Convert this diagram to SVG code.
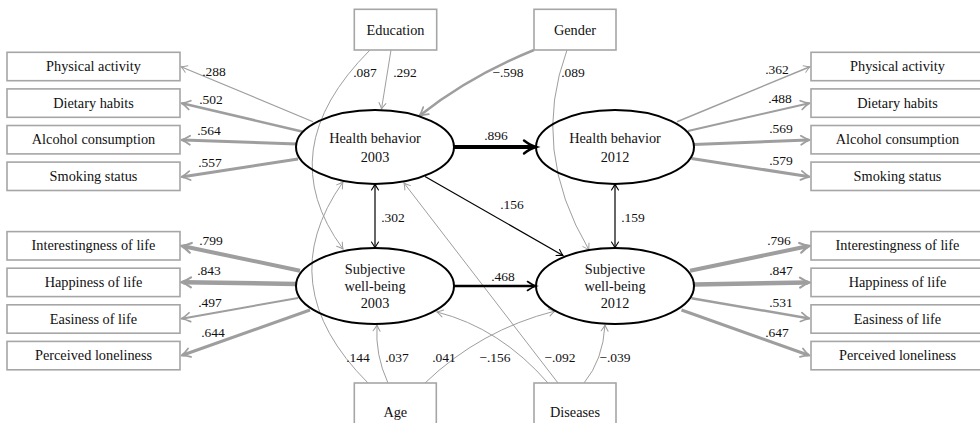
<svg xmlns="http://www.w3.org/2000/svg" width="980" height="423" viewBox="0 0 980 423" font-family="'Liberation Serif', 'DejaVu Serif', serif">
  <style>
    text { font-family: "Liberation Serif", "DejaVu Serif", serif; fill: #111; }
    .box rect { fill: #fff; stroke: #a6a6a6; stroke-width: 1.6; }
    .box text { font-size: 14.3px; text-anchor: middle; }
    .lat ellipse { fill: none; stroke: #000; stroke-width: 2; }
    .lat text { font-size: 14.3px; text-anchor: middle; }
    .g { fill: none; stroke: #9e9e9e; }
    .k { fill: none; stroke: #000; }
    .lbl { font-size: 13.5px; text-anchor: middle; }
  </style>
  <defs>
    <marker id="g1" markerUnits="userSpaceOnUse" viewBox="-10 -6 14 12" refX="0" refY="0" markerWidth="14" markerHeight="12" orient="auto" overflow="visible">
      <path d="M-6,-3.5 Q-2,-0.8 0,0 Q-2,0.8 -6,3.5" fill="none" stroke="#9e9e9e" stroke-width="1" stroke-linecap="round"/>
    </marker>
    <marker id="g2" markerUnits="userSpaceOnUse" viewBox="-10 -6 14 12" refX="0" refY="0" markerWidth="14" markerHeight="12" orient="auto" overflow="visible">
      <path d="M-7,-4.5 Q-2,-1 2,0 Q-2,1 -7,4.5" fill="none" stroke="#9e9e9e" stroke-width="1.7" stroke-linecap="round"/>
    </marker>
    <marker id="g3" markerUnits="userSpaceOnUse" viewBox="-10 -6 14 12" refX="0" refY="0" markerWidth="14" markerHeight="12" orient="auto" overflow="visible">
      <path d="M-7.5,-5 Q-2,-1.2 2.5,0 Q-2,1.2 -7.5,5" fill="none" stroke="#9e9e9e" stroke-width="2.1" stroke-linecap="round"/>
    </marker>
    <marker id="k1" markerUnits="userSpaceOnUse" viewBox="-10 -6 14 12" refX="0" refY="0" markerWidth="14" markerHeight="12" orient="auto-start-reverse" overflow="visible">
      <path d="M-6,-3.5 Q-2,-0.8 0,0 Q-2,0.8 -6,3.5" fill="none" stroke="#000" stroke-width="1.1" stroke-linecap="round"/>
    </marker>
    <marker id="k2" markerUnits="userSpaceOnUse" viewBox="-10 -6 14 12" refX="0" refY="0" markerWidth="14" markerHeight="12" orient="auto" overflow="visible">
      <path d="M-7,-4.5 Q-2,-1 1.5,0 Q-2,1 -7,4.5" fill="none" stroke="#000" stroke-width="1.6" stroke-linecap="round"/>
    </marker>
    <marker id="k3" markerUnits="userSpaceOnUse" viewBox="-14 -8 18 16" refX="0" refY="0" markerWidth="18" markerHeight="16" orient="auto" overflow="visible">
      <path d="M-10,-6.5 Q-3.5,-1.5 2,0 Q-3.5,1.5 -10,6.5" fill="none" stroke="#000" stroke-width="2.4" stroke-linecap="round"/>
    </marker>
  </defs>

  <!-- paths and loadings -->
  <g id="connectors">
    <!-- health behavior 2003 indicators -->
    <path class="g" stroke-width="1.2" marker-end="url(#g1)" d="M313,121.7 L181,66.7"/>
    <path class="g" stroke-width="2.5" marker-end="url(#g2)" d="M303,131.7 L183,103.5"/>
    <path class="g" stroke-width="3" marker-end="url(#g2)" d="M297,144 L183,140"/>
    <path class="g" stroke-width="3" marker-end="url(#g2)" d="M298,159 L183,176.7"/>
    <!-- subjective well-being 2003 indicators -->
    <path class="g" stroke-width="4" marker-end="url(#g3)" d="M300,270.7 L183.5,246.3"/>
    <path class="g" stroke-width="4.5" marker-end="url(#g3)" d="M296,284 L183.5,282.2"/>
    <path class="g" stroke-width="2" marker-end="url(#g2)" d="M298,298 L183,318.4"/>
    <path class="g" stroke-width="3" marker-end="url(#g2)" d="M310,310 L183,355"/>
    <!-- health behavior 2012 indicators -->
    <path class="g" stroke-width="1.5" marker-end="url(#g1)" d="M677,121.7 L810,66.7"/>
    <path class="g" stroke-width="2" marker-end="url(#g2)" d="M688,131 L808,103.5"/>
    <path class="g" stroke-width="3" marker-end="url(#g2)" d="M694,144.5 L808,140"/>
    <path class="g" stroke-width="3" marker-end="url(#g2)" d="M691.5,158.5 L808,176.5"/>
    <!-- subjective well-being 2012 indicators -->
    <path class="g" stroke-width="4" marker-end="url(#g3)" d="M690,270.7 L807.5,246.3"/>
    <path class="g" stroke-width="4.5" marker-end="url(#g3)" d="M694,284.5 L807.5,282.5"/>
    <path class="g" stroke-width="2.5" marker-end="url(#g2)" d="M691.5,298.3 L808,318.2"/>
    <path class="g" stroke-width="3" marker-end="url(#g2)" d="M681.5,310 L808,355"/>

    <!-- covariates -->
    <path class="g" stroke-width="1" marker-end="url(#g1)" d="M391,50 L381.5,109"/>
    <path class="g" stroke-width="1" marker-end="url(#g1)" d="M370,50 Q270,150 343,249"/>
    <path class="g" stroke-width="2.5" marker-end="url(#g2)" d="M534,50 Q470,76 420.5,115"/>
    <path class="g" stroke-width="1" marker-end="url(#g1)" d="M567,50 Q530,150 589,250"/>
    <path class="g" stroke-width="1" marker-end="url(#g1)" d="M368,383 Q270,285 343,182"/>
    <path class="g" stroke-width="1" marker-end="url(#g1)" d="M388,383 Q375,355 377,325"/>
    <path class="g" stroke-width="1" marker-end="url(#g1)" d="M425,383 Q480,330 555,311"/>
    <path class="g" stroke-width="1" marker-end="url(#g1)" d="M548,383 Q500,328 437,312"/>
    <path class="g" stroke-width="1" marker-end="url(#g1)" d="M558,383 L404,183"/>
    <path class="g" stroke-width="1" marker-end="url(#g1)" d="M584,383 Q603,360 605,325"/>

    <!-- structural paths -->
    <path class="k" stroke-width="4" marker-end="url(#k3)" d="M454,147 L534,147"/>
    <path class="k" stroke-width="2.4" marker-end="url(#k2)" d="M454,286 L534.5,286"/>
    <path class="k" stroke-width="1.2" marker-end="url(#k1)" d="M425,176.5 L563,255.5"/>
    <path class="k" stroke-width="1.2" marker-start="url(#k1)" marker-end="url(#k1)" d="M375,184 L375,248"/>
    <path class="k" stroke-width="1.2" marker-start="url(#k1)" marker-end="url(#k1)" d="M615,184 L615,248"/>

    <!-- coefficients -->
    <text class="lbl" x="214" y="76">.288</text>
    <text class="lbl" x="211" y="104">.502</text>
    <text class="lbl" x="209" y="135">.564</text>
    <text class="lbl" x="210" y="167">.557</text>
    <text class="lbl" x="211" y="245">.799</text>
    <text class="lbl" x="209" y="275">.843</text>
    <text class="lbl" x="210" y="307">.497</text>
    <text class="lbl" x="213" y="337">.644</text>
    <text class="lbl" x="777" y="74">.362</text>
    <text class="lbl" x="780" y="103">.488</text>
    <text class="lbl" x="781" y="133">.569</text>
    <text class="lbl" x="781" y="165">.579</text>
    <text class="lbl" x="779" y="245">.796</text>
    <text class="lbl" x="781" y="275">.847</text>
    <text class="lbl" x="781" y="307">.531</text>
    <text class="lbl" x="777" y="337">.647</text>
    <text class="lbl" x="365" y="77">.087</text>
    <text class="lbl" x="405" y="77">.292</text>
    <text class="lbl" x="508" y="77">−.598</text>
    <text class="lbl" x="573" y="77">.089</text>
    <text class="lbl" x="358" y="362">.144</text>
    <text class="lbl" x="397" y="362">.037</text>
    <text class="lbl" x="444" y="362">.041</text>
    <text class="lbl" x="495" y="362">−.156</text>
    <text class="lbl" x="560" y="362">−.092</text>
    <text class="lbl" x="615" y="362">−.039</text>
    <text class="lbl" x="496" y="140">.896</text>
    <text class="lbl" x="503" y="281">.468</text>
    <text class="lbl" x="393" y="221.5">.302</text>
    <text class="lbl" x="633" y="221.5">.159</text>
    <text class="lbl" x="512" y="209">.156</text>
  </g>

  <!-- latent variables -->
  <g id="hb2003" class="lat">
    <ellipse cx="375" cy="147" rx="79" ry="37"/>
    <text x="375" y="143">Health behavior</text>
    <text x="375" y="162">2003</text>
  </g>
  <g id="hb2012" class="lat">
    <ellipse cx="615" cy="147" rx="79" ry="37"/>
    <text x="615" y="143">Health behavior</text>
    <text x="615" y="162">2012</text>
  </g>
  <g id="swb2003" class="lat">
    <ellipse cx="375" cy="286" rx="79" ry="38"/>
    <text x="375" y="274">Subjective</text>
    <text x="375" y="291">well-being</text>
    <text x="375" y="307.5">2003</text>
  </g>
  <g id="swb2012" class="lat">
    <ellipse cx="615" cy="286" rx="79" ry="38"/>
    <text x="615" y="274">Subjective</text>
    <text x="615" y="291">well-being</text>
    <text x="615" y="307.5">2012</text>
  </g>

  <!-- observed indicators, 2003 -->
  <g id="pa2003" class="box"><rect x="7" y="52.3" width="173" height="28.4"/><text x="93.5" y="71">Physical activity</text></g>
  <g id="dh2003" class="box"><rect x="7" y="88.9" width="173" height="28.4"/><text x="93.5" y="107.6">Dietary habits</text></g>
  <g id="ac2003" class="box"><rect x="7" y="125.5" width="173" height="28.4"/><text x="93.5" y="144.2">Alcohol consumption</text></g>
  <g id="ss2003" class="box"><rect x="7" y="162.1" width="173" height="28.4"/><text x="93.5" y="180.8">Smoking status</text></g>
  <g id="il2003" class="box"><rect x="7" y="231.6" width="173" height="28.4"/><text x="93.5" y="250.3">Interestingness of life</text></g>
  <g id="hl2003" class="box"><rect x="7" y="268.2" width="173" height="28.4"/><text x="93.5" y="286.9">Happiness of life</text></g>
  <g id="el2003" class="box"><rect x="7" y="304.8" width="173" height="28.4"/><text x="93.5" y="323.5">Easiness of life</text></g>
  <g id="pl2003" class="box"><rect x="7" y="341.4" width="173" height="28.4"/><text x="93.5" y="360.1">Perceived loneliness</text></g>

  <!-- observed indicators, 2012 -->
  <g id="pa2012" class="box"><rect x="811" y="52.3" width="173" height="28.4"/><text x="897.5" y="71">Physical activity</text></g>
  <g id="dh2012" class="box"><rect x="811" y="88.9" width="173" height="28.4"/><text x="897.5" y="107.6">Dietary habits</text></g>
  <g id="ac2012" class="box"><rect x="811" y="125.5" width="173" height="28.4"/><text x="897.5" y="144.2">Alcohol consumption</text></g>
  <g id="ss2012" class="box"><rect x="811" y="162.1" width="173" height="28.4"/><text x="897.5" y="180.8">Smoking status</text></g>
  <g id="il2012" class="box"><rect x="811" y="231.6" width="173" height="28.4"/><text x="897.5" y="250.3">Interestingness of life</text></g>
  <g id="hl2012" class="box"><rect x="811" y="268.2" width="173" height="28.4"/><text x="897.5" y="286.9">Happiness of life</text></g>
  <g id="el2012" class="box"><rect x="811" y="304.8" width="173" height="28.4"/><text x="897.5" y="323.5">Easiness of life</text></g>
  <g id="pl2012" class="box"><rect x="811" y="341.4" width="173" height="28.4"/><text x="897.5" y="360.1">Perceived loneliness</text></g>

  <!-- covariates -->
  <g id="education" class="box"><rect x="354.3" y="9.3" width="82.4" height="40.7"/><text x="395.5" y="34.5">Education</text></g>
  <g id="gender" class="box"><rect x="534" y="9.3" width="82" height="40.7"/><text x="575" y="34.5">Gender</text></g>
  <g id="age" class="box"><rect x="354.3" y="383" width="82" height="46"/><text x="395.3" y="417">Age</text></g>
  <g id="diseases" class="box"><rect x="534" y="383" width="82" height="46"/><text x="575" y="417">Diseases</text></g>
</svg>
